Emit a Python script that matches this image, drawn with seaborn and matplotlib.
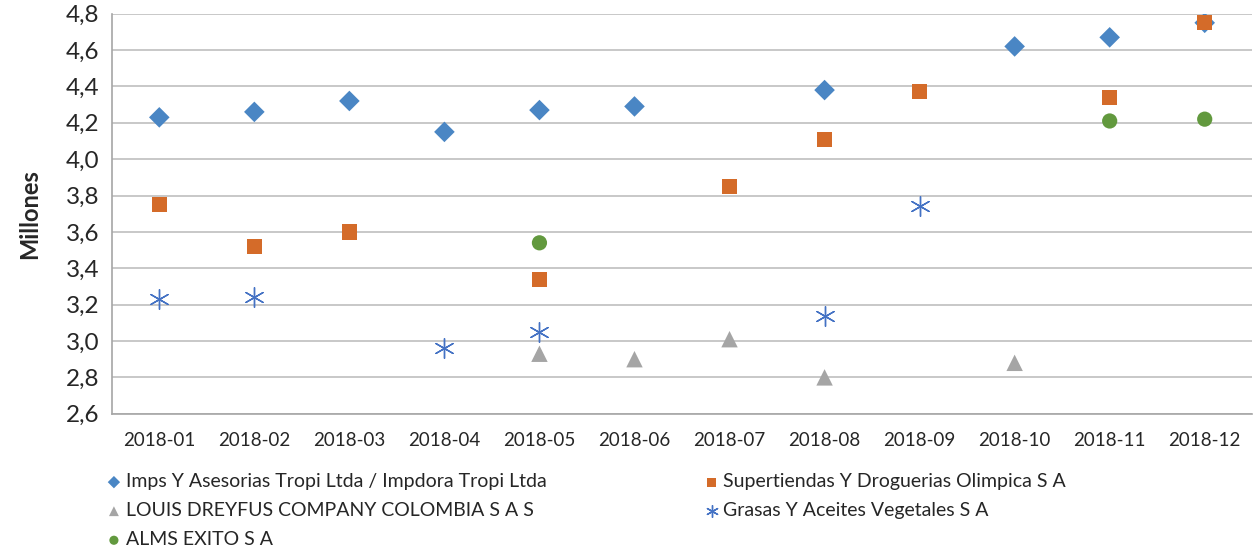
import pandas as pd
import numpy as np
import matplotlib
matplotlib.use('Agg')
import matplotlib.pyplot as plt
import seaborn as sns
from matplotlib.ticker import FuncFormatter, FixedLocator

# categories and series (millones), None = no point that month
months = ['2018-01', '2018-02', '2018-03', '2018-04', '2018-05', '2018-06',
          '2018-07', '2018-08', '2018-09', '2018-10', '2018-11', '2018-12']
imps_tropi = [4.23, 4.26, 4.32, 4.15, 4.27, 4.29, None, 4.38, None, 4.62, 4.67, 4.75]
olimpica = [3.75, 3.52, 3.60, None, 3.34, None, 3.85, 4.11, 4.37, None, 4.34, 4.75]
louis_dreyfus = [None, None, None, None, 2.93, 2.90, 3.01, 2.80, None, 2.88, None, None]
grasas = [3.23, 3.24, None, 2.96, 3.05, None, None, 3.14, 3.74, None, None, None]
exito = [None, None, None, None, 3.54, None, None, None, None, None, 4.21, 4.22]

series_names = ['Imps Y Asesorias Tropi Ltda / Impdora Tropi Ltda',
                'Supertiendas Y Droguerias Olimpica S A',
                'LOUIS DREYFUS COMPANY COLOMBIA S A S',
                'Grasas Y Aceites Vegetales S A',
                'ALMS EXITO S A']
series_vals = [imps_tropi, olimpica, louis_dreyfus, grasas, exito]

sns.set_style('white')
plt.rcParams['font.family'] = ['Lato', 'DejaVu Sans']

fig, ax = plt.subplots(figsize=(12.56, 5.48), dpi=100)
fig.subplots_adjust(left=0.089, right=0.997, top=0.975, bottom=0.245)

#marker style per series
styles = [('D', '#4A86C4', 110, 0),
          ('s', '#D46B29', 120, 0),
          ('^', '#A5A5A5', 140, 0),
          ((6, 2, 0), '#4472C4', 200, 1.0),
          ('o', '#62993E', 120, 0)]

for name, vals, (mk, col, sz, lw) in zip(series_names, series_vals, styles):
    df = pd.DataFrame({'month': months, 'value': vals}).dropna()
    df['pos'] = [months.index(m) for m in df['month']]
    if lw > 0:
        sns.scatterplot(data=df, x='pos', y='value', ax=ax, marker=mk, s=sz,
                        color=col, linewidth=lw, label=name, zorder=3)
    else:
        sns.scatterplot(data=df, x='pos', y='value', ax=ax, marker=mk, s=sz,
                        color=col, edgecolor='none', linewidth=0, label=name, zorder=3)

ax.set_xlim(-0.5, len(months) - 0.5)
ax.set_ylim(2.6, 4.8)
ax.set_yticks(np.arange(2.6, 4.81, 0.2))
ax.yaxis.set_major_formatter(FuncFormatter(lambda v, p: f'{v:.1f}'.replace('.', ',')))
ax.set_xticks(range(len(months)))
ax.set_xticklabels(months, fontsize=13.5)
ax.xaxis.set_minor_locator(FixedLocator(np.arange(-0.5, len(months), 1)))
ax.tick_params(axis='x', which='major', length=0, pad=13)
ax.tick_params(axis='x', which='minor', length=5, color='#A6A6A6', width=1)
ax.tick_params(axis='y', labelsize=17.5, length=5, color='#A6A6A6', pad=4)
ax.grid(axis='y', color='#BFBFBF', linewidth=1.2)
ax.set_axisbelow(True)
for s in ['top', 'right']:
    ax.spines[s].set_visible(False)
for s in ['left', 'bottom']:
    ax.spines[s].set_color('#A6A6A6')
    ax.spines[s].set_linewidth(1.2)
ax.set_xlabel('')
ax.set_ylabel('Millones', fontsize=17, fontweight='bold', labelpad=18)

h, l = ax.get_legend_handles_labels()
order = [0, 2, 4, 1, 3]
ax.legend([h[i] for i in order], [l[i] for i in order], ncol=2,
          loc='upper left', bbox_to_anchor=(-0.022, -0.105), frameon=False,
          fontsize=14, handletextpad=0.1, columnspacing=8.0, labelspacing=0.62,
          markerscale=0.6, handlelength=1.0)

plt.savefig('out.png', dpi=100)
